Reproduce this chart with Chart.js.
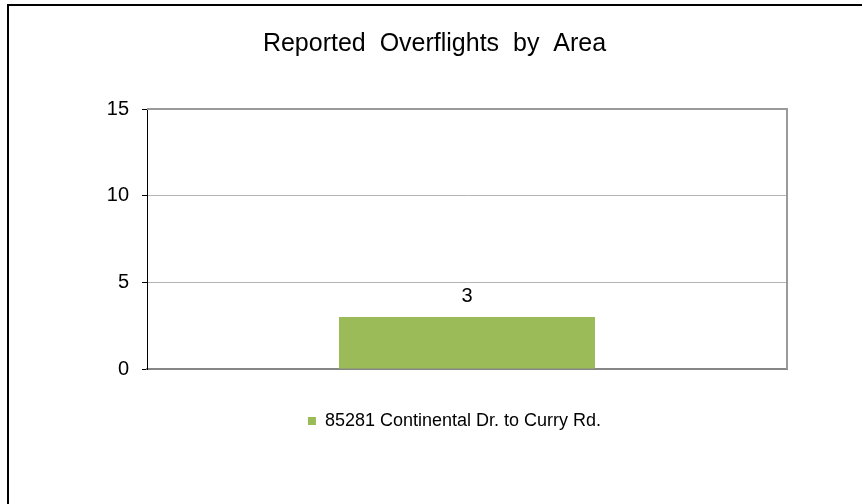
<!doctype html>
<html lang="en">
  <head>
    <meta charset="utf-8">
    <title>Reported Overflights by Area</title>
    <style>
      html, body { margin: 0; padding: 0; background: #fff; }
      canvas { display: block; }
    </style>
  </head>
  <body>
    <canvas id="overflightsChart" width="862" height="504"></canvas>

    <script src="https://cdn.jsdelivr.net/npm/chart.js"></script>
    <script>
      // data
      const categories = [''];
      const seriesName = '85281 Continental Dr. to Curry Rd.';
      const seriesValues = [3];
      const yTicks = [0, 5, 10, 15];

      const FONT = "Arial, sans-serif";

      // outer frame + plot border
      const framePlugin = {
        id: 'frame',
        beforeDraw(chart) {
          const c = chart.ctx;
          c.save();
          c.fillStyle = '#fff';
          c.fillRect(0, 0, chart.width, chart.height);
          c.restore();
        },
        afterLayout(chart) {
          // title and legend sit right of the canvas centre in the original
          chart.legend.left += 61;
          chart.legend.right += 61;
          chart.titleBlock.left += 41;
          chart.titleBlock.right += 41;
        },
        afterDraw(chart) {
          const c = chart.ctx;
          const a = chart.chartArea;
          c.save();
          c.strokeStyle = '#000';
          c.lineWidth = 2;
          c.beginPath();
          c.moveTo(8, chart.height);
          c.lineTo(8, 5);
          c.lineTo(chart.width, 5);
          c.stroke();

          c.strokeStyle = '#9a9a9a';
          c.lineWidth = 2;
          c.beginPath();
          c.moveTo(a.left, a.top);
          c.lineTo(a.right, a.top);
          c.lineTo(a.right, a.bottom);
          c.stroke();
          c.restore();
        }
      };

      // value above each bar
      const valueLabels = {
        id: 'valueLabels',
        afterDatasetsDraw(chart) {
          const c = chart.ctx;
          c.save();
          c.font = '20px ' + FONT;
          c.fillStyle = '#000';
          c.textAlign = 'center';
          c.textBaseline = 'middle';
          chart.getDatasetMeta(0).data.forEach((bar, i) => {
            c.fillText(String(seriesValues[i]), bar.x, bar.y - 21);
          });
          c.restore();
        }
      };

      document.addEventListener('DOMContentLoaded', function () {
        const ctx = document.getElementById('overflightsChart').getContext('2d');
        new Chart(ctx, {
          type: 'bar',
          data: {
            labels: categories,
            datasets: [{
              label: seriesName,
              data: seriesValues,
              backgroundColor: '#9bbb59',
              borderWidth: 0,
              barPercentage: 0.4,
              categoryPercentage: 1
            }]
          },
          options: {
            responsive: false,
            animation: false,
            devicePixelRatio: 1,
            layout: { padding: { left: 0, right: 75, top: 0, bottom: 64 } },
            plugins: {
              title: {
                display: true,
                text: 'Reported  Overflights  by  Area',
                color: '#000',
                font: { family: FONT, size: 25, weight: 'normal' },
                padding: { top: 29, bottom: 50 }
              },
              legend: {
                position: 'bottom',
                labels: {
                  color: '#000',
                  font: { family: FONT, size: 18 },
                  boxWidth: 8,
                  boxHeight: 8,
                  padding: 10
                }
              },
              tooltip: { enabled: false }
            },
            scales: {
              x: {
                grid: { display: false, drawTicks: false },
                border: { display: true, color: '#868686', width: 2 },
                ticks: { display: false },
                afterFit(scale) { scale.height = 33; }
              },
              y: {
                min: 0,
                max: 15,
                afterBuildTicks(scale) {
                  scale.ticks = yTicks.map(v => ({ value: v }));
                },
                grid: { color: '#b5b5b5', lineWidth: 1, tickColor: '#000', tickLength: 5 },
                border: { display: true, color: '#000', width: 1 },
                ticks: {
                  color: '#000',
                  padding: 13,
                  font: { family: FONT, size: 20 }
                },
                afterFit(scale) { scale.width = 147; }
              }
            }
          },
          plugins: [framePlugin, valueLabels]
        });
      });
    </script>
  </body>
</html>
